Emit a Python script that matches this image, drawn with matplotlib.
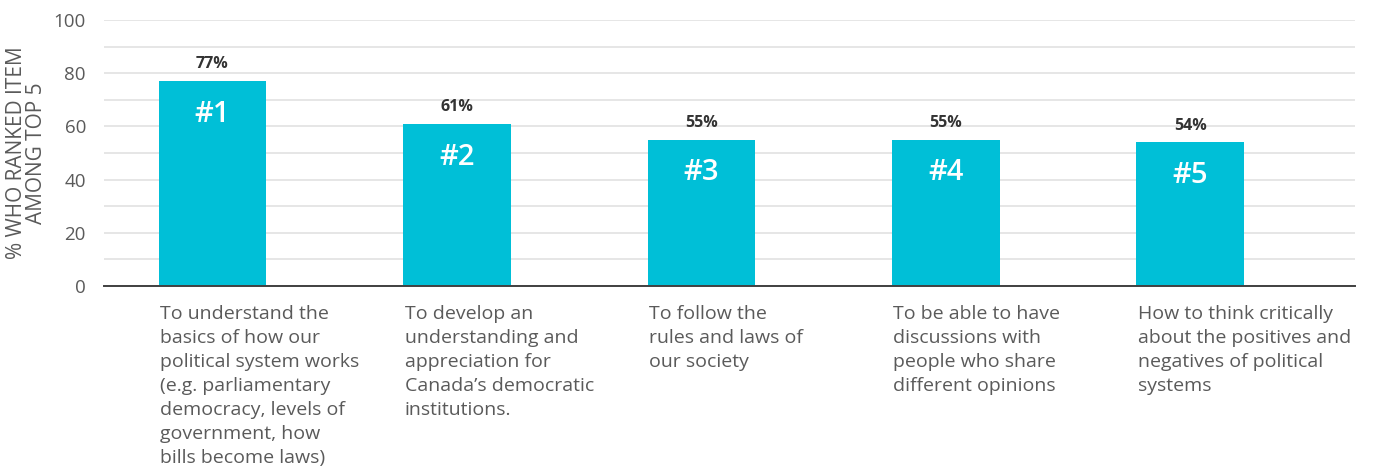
import matplotlib
matplotlib.use("Agg")
import matplotlib.pyplot as plt
import matplotlib.transforms as mtransforms
import numpy as np

plt.rcParams["font.family"] = ["Open Sans", "DejaVu Sans"]

# ranked items and share of respondents placing each in their top 5
ranks = ["#1", "#2", "#3", "#4", "#5"]
shares = [77, 61, 55, 55, 54]
items = [
    "To understand the\nbasics of how our\npolitical system works\n(e.g. parliamentary\ndemocracy, levels of\ngovernment, how\nbills become laws)",
    "To develop an\nunderstanding and\nappreciation for\nCanada\u2019s democratic\ninstitutions.",
    "To follow the\nrules and laws of\nour society",
    "To be able to have\ndiscussions with\npeople who share\ndifferent opinions",
    "How to think critically\nabout the positives and\nnegatives of political\nsystems",
]

BAR_COLOR = "#00bfd7"
TEXT_GRAY = "#5a5a5a"
bar_w = 0.44

fig = plt.figure(figsize=(13.73, 4.68), dpi=100)
ax = fig.add_axes([0.0757, 0.389, 0.911, 0.568])

x = np.arange(len(shares))
bars = ax.bar(x, shares, bar_w, color=BAR_COLOR, zorder=3)

ax.set_ylim(0, 100)
ax.set_xlim(-0.444, 4.673)
ax.set_yticks(np.arange(0, 101, 20))
ax.set_yticks(np.arange(0, 101, 10), minor=True)
ax.yaxis.grid(True, which="both", color="#e2e2e2", linewidth=1.2, zorder=0)
ax.tick_params(axis="y", which="both", length=0, pad=13, labelsize=13.5, labelcolor=TEXT_GRAY)
ax.set_xticks([])

for side in ["top", "right", "left"]:
    ax.spines[side].set_visible(False)
ax.spines["bottom"].set_color("#404040")
ax.spines["bottom"].set_linewidth(1.4)
ax.spines["bottom"].set_zorder(4)

ax.set_ylabel("% WHO RANKED ITEM\nAMONG TOP 5", fontsize=15, color=TEXT_GRAY,
              linespacing=0.9, labelpad=5)

for xi, v, r in zip(x, shares, ranks):
    ax.text(xi, v + 3.3, f"{v}%", ha="center", va="bottom", fontsize=11.5,
            fontweight="bold", color="#333333")
    ax.text(xi, v - 12.5, r, ha="center", va="center", fontsize=21,
            fontweight="semibold", color="white", zorder=4)

trans = mtransforms.blended_transform_factory(ax.transData, ax.transAxes)
for xi, label in zip(x, items):
    ax.annotate(label, xy=(xi - bar_w / 2, 0), xycoords=trans,
                xytext=(1, -14), textcoords="offset points",
                ha="left", va="top", fontsize=14, color=TEXT_GRAY,
                linespacing=1.42)

fig.savefig("out.png", dpi=100)
